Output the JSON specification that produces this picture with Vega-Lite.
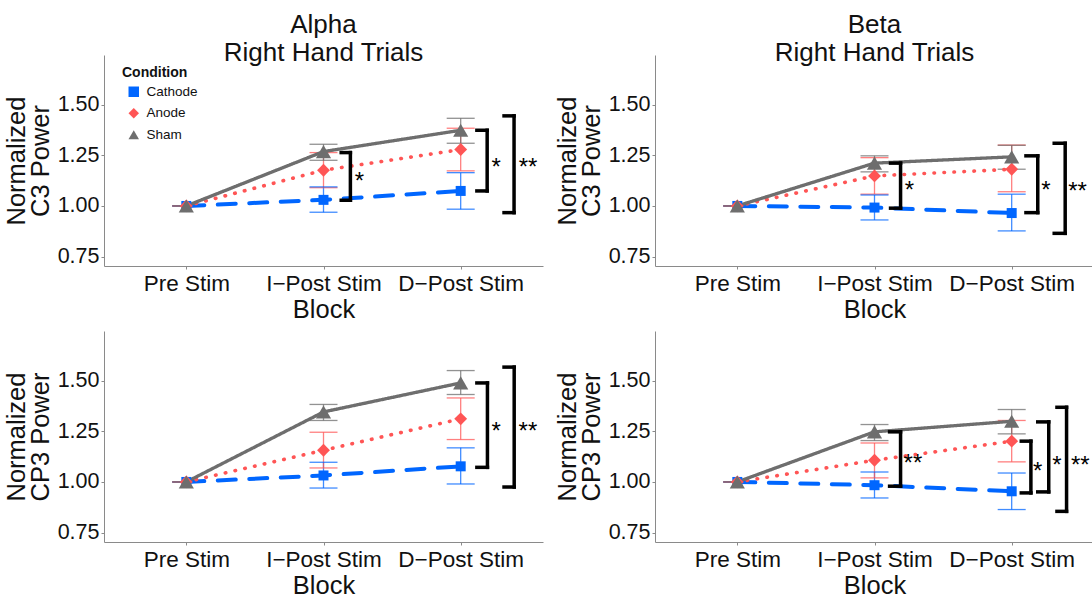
{
  "$schema": "https://vega.github.io/schema/vega-lite/v6.json",
  "padding": {"left": 4, "top": 12, "right": 0, "bottom": 0},
  "background": "white",
  "config": {
    "font": "Liberation Sans",
    "view": {"stroke": null},
    "axis": {"grid": false, "domainColor": "#8a8a8a", "tickColor": "#8a8a8a", "tickSize": 3, "labelColor": "#111", "titleColor": "#111", "titleFontWeight": "normal", "labelFontSize": 21.5, "titleFontSize": 25.5},
    "title": {"fontSize": 26, "fontWeight": "normal", "color": "#111"},
    "legend": {"padding": 0}
  },
  "datasets": {
    "pts": [
      {"panel": "AC3", "Condition": "Cathode", "blk": 1, "y": 1.0, "lo": 1.0, "hi": 1.0},
      {"panel": "AC3", "Condition": "Cathode", "blk": 2, "y": 1.03, "lo": 0.969, "hi": 1.094},
      {"panel": "AC3", "Condition": "Cathode", "blk": 3, "y": 1.074, "lo": 0.984, "hi": 1.164},
      {"panel": "AC3", "Condition": "Anode", "blk": 1, "y": 1.0, "lo": 1.0, "hi": 1.0},
      {"panel": "AC3", "Condition": "Anode", "blk": 2, "y": 1.176, "lo": 1.09, "hi": 1.263},
      {"panel": "AC3", "Condition": "Anode", "blk": 3, "y": 1.278, "lo": 1.173, "hi": 1.383},
      {"panel": "AC3", "Condition": "Sham", "blk": 1, "y": 1.0, "lo": 1.0, "hi": 1.0},
      {"panel": "AC3", "Condition": "Sham", "blk": 2, "y": 1.268, "lo": 1.225, "hi": 1.304},
      {"panel": "AC3", "Condition": "Sham", "blk": 3, "y": 1.373, "lo": 1.309, "hi": 1.432},
      {"panel": "BC3", "Condition": "Cathode", "blk": 1, "y": 1.0, "lo": 1.0, "hi": 1.0},
      {"panel": "BC3", "Condition": "Cathode", "blk": 2, "y": 0.992, "lo": 0.931, "hi": 1.054},
      {"panel": "BC3", "Condition": "Cathode", "blk": 3, "y": 0.965, "lo": 0.877, "hi": 1.058},
      {"panel": "BC3", "Condition": "Anode", "blk": 1, "y": 1.0, "lo": 1.0, "hi": 1.0},
      {"panel": "BC3", "Condition": "Anode", "blk": 2, "y": 1.148, "lo": 1.058, "hi": 1.238},
      {"panel": "BC3", "Condition": "Anode", "blk": 3, "y": 1.181, "lo": 1.07, "hi": 1.3},
      {"panel": "BC3", "Condition": "Sham", "blk": 1, "y": 1.0, "lo": 1.0, "hi": 1.0},
      {"panel": "BC3", "Condition": "Sham", "blk": 2, "y": 1.211, "lo": 1.168, "hi": 1.247},
      {"panel": "BC3", "Condition": "Sham", "blk": 3, "y": 1.242, "lo": 1.181, "hi": 1.299},
      {"panel": "ACP3", "Condition": "Cathode", "blk": 1, "y": 1.0, "lo": 1.0, "hi": 1.0},
      {"panel": "ACP3", "Condition": "Cathode", "blk": 2, "y": 1.032, "lo": 0.97, "hi": 1.097},
      {"panel": "ACP3", "Condition": "Cathode", "blk": 3, "y": 1.077, "lo": 0.99, "hi": 1.168},
      {"panel": "ACP3", "Condition": "Anode", "blk": 1, "y": 1.0, "lo": 1.0, "hi": 1.0},
      {"panel": "ACP3", "Condition": "Anode", "blk": 2, "y": 1.156, "lo": 1.069, "hi": 1.245},
      {"panel": "ACP3", "Condition": "Anode", "blk": 3, "y": 1.311, "lo": 1.209, "hi": 1.414},
      {"panel": "ACP3", "Condition": "Sham", "blk": 1, "y": 1.0, "lo": 1.0, "hi": 1.0},
      {"panel": "ACP3", "Condition": "Sham", "blk": 2, "y": 1.345, "lo": 1.303, "hi": 1.382},
      {"panel": "ACP3", "Condition": "Sham", "blk": 3, "y": 1.488, "lo": 1.431, "hi": 1.549},
      {"panel": "BCP3", "Condition": "Cathode", "blk": 1, "y": 1.0, "lo": 1.0, "hi": 1.0},
      {"panel": "BCP3", "Condition": "Cathode", "blk": 2, "y": 0.984, "lo": 0.921, "hi": 1.049},
      {"panel": "BCP3", "Condition": "Cathode", "blk": 3, "y": 0.954, "lo": 0.864, "hi": 1.044},
      {"panel": "BCP3", "Condition": "Anode", "blk": 1, "y": 1.0, "lo": 1.0, "hi": 1.0},
      {"panel": "BCP3", "Condition": "Anode", "blk": 2, "y": 1.107, "lo": 1.02, "hi": 1.192},
      {"panel": "BCP3", "Condition": "Anode", "blk": 3, "y": 1.201, "lo": 1.099, "hi": 1.303},
      {"panel": "BCP3", "Condition": "Sham", "blk": 1, "y": 1.0, "lo": 1.0, "hi": 1.0},
      {"panel": "BCP3", "Condition": "Sham", "blk": 2, "y": 1.247, "lo": 1.204, "hi": 1.283},
      {"panel": "BCP3", "Condition": "Sham", "blk": 3, "y": 1.299, "lo": 1.237, "hi": 1.357}
    ],
    "br": [
      {"panel": "AC3", "bx": 2.196, "tx": 2.129, "ylo": 1.028, "yhi": 1.263, "label": "*", "lx": 2.262, "ly": 1.146},
      {"panel": "AC3", "bx": 3.193, "tx": 3.118, "ylo": 1.074, "yhi": 1.373, "label": "*", "lx": 3.258, "ly": 1.218},
      {"panel": "AC3", "bx": 3.389, "tx": 3.316, "ylo": 0.967, "yhi": 1.444, "label": "**", "lx": 3.491, "ly": 1.218},
      {"panel": "BC3", "bx": 2.19, "tx": 2.117, "ylo": 0.989, "yhi": 1.211, "label": "*", "lx": 2.255, "ly": 1.102},
      {"panel": "BC3", "bx": 3.19, "tx": 3.104, "ylo": 0.967, "yhi": 1.247, "label": "*", "lx": 3.25, "ly": 1.104},
      {"panel": "BC3", "bx": 3.39, "tx": 3.31, "ylo": 0.865, "yhi": 1.309, "label": "**", "lx": 3.48, "ly": 1.099},
      {"panel": "ACP3", "bx": 3.195, "tx": 3.118, "ylo": 1.072, "yhi": 1.488, "label": "*", "lx": 3.258, "ly": 1.275},
      {"panel": "ACP3", "bx": 3.39, "tx": 3.316, "ylo": 0.975, "yhi": 1.566, "label": "**", "lx": 3.49, "ly": 1.275},
      {"panel": "BCP3", "bx": 2.19, "tx": 2.11, "ylo": 0.979, "yhi": 1.247, "label": "**", "lx": 2.28, "ly": 1.118},
      {"panel": "BCP3", "bx": 3.14, "tx": 3.07, "ylo": 0.946, "yhi": 1.201, "label": "*", "lx": 3.19, "ly": 1.077},
      {"panel": "BCP3", "bx": 3.27, "tx": 3.19, "ylo": 0.951, "yhi": 1.296, "label": "*", "lx": 3.33, "ly": 1.11},
      {"panel": "BCP3", "bx": 3.4, "tx": 3.33, "ylo": 0.855, "yhi": 1.368, "label": "**", "lx": 3.5, "ly": 1.11}
    ]
  },
  "columns": 2,
  "spacing": {"column": 12, "row": 8},
  "concat": [
    {
      "width": 439, "height": 211,
      "title": {"text": ["Alpha", "Right Hand Trials"], "anchor": "middle", "offset": -11, "lineHeight": 28},
      "layer": [
        {"data": {"name": "pts"}, "transform": [{"filter": "datum.panel=='AC3'"}], "mark": {"type": "rule", "strokeWidth": 1.3, "opacity": 0.75},
         "encoding": {
           "x": {"field": "blk", "type": "quantitative", "scale": {"domain": [0.4, 3.6], "nice": false, "zero": false}, "axis": {"title": "Block", "values": [1, 2, 3], "labelExpr": "datum.value==1?'Pre Stim':datum.value==2?'I−Post Stim':'D−Post Stim'", "labelPadding": 3, "titlePadding": 3, "labelFontSize": 22.5, "titleFontSize": 25.5}},
           "y": {"field": "lo", "type": "quantitative", "scale": {"domain": [0.704, 1.744], "nice": false, "zero": false}, "axis": {"title": ["Normalized", "C3 Power"], "values": [0.75, 1, 1.25, 1.5], "format": ".2f", "labelPadding": 2, "titlePadding": 4, "titleLineHeight": 24}},
           "y2": {"field": "hi"},
           "stroke": {"field": "Condition", "type": "nominal", "scale": {"domain": ["Sham", "Anode", "Cathode"], "range": ["#6E6E6E", "#FF5555", "#0066FF"]}, "legend": null}}},
        {"data": {"name": "pts"}, "transform": [{"filter": "datum.panel=='AC3'"}], "mark": {"type": "tick", "orient": "horizontal", "size": 28, "thickness": 1.3, "opacity": 0.75},
         "encoding": {"x": {"field": "blk", "type": "quantitative"}, "y": {"field": "lo", "type": "quantitative"}, "fill": {"field": "Condition", "type": "nominal", "scale": {"domain": ["Sham", "Anode", "Cathode"], "range": ["#6E6E6E", "#FF5555", "#0066FF"]}, "legend": null}}},
        {"data": {"name": "pts"}, "transform": [{"filter": "datum.panel=='AC3'"}], "mark": {"type": "tick", "orient": "horizontal", "size": 28, "thickness": 1.3, "opacity": 0.75},
         "encoding": {"x": {"field": "blk", "type": "quantitative"}, "y": {"field": "hi", "type": "quantitative"}, "fill": {"field": "Condition", "type": "nominal", "legend": null}}},
        {"data": {"name": "pts"}, "transform": [{"filter": "datum.panel=='AC3'"}], "mark": {"type": "line", "strokeCap": "round"},
         "encoding": {"x": {"field": "blk", "type": "quantitative"}, "y": {"field": "y", "type": "quantitative"}, "stroke": {"field": "Condition", "type": "nominal", "legend": null},
           "strokeDash": {"field": "Condition", "type": "nominal", "scale": {"domain": ["Sham", "Anode", "Cathode"], "range": [[1, 0], [0.5, 9.5], [18, 13.5]]}, "legend": null},
           "strokeWidth": {"field": "Condition", "type": "nominal", "scale": {"domain": ["Sham", "Anode", "Cathode"], "range": [3.3, 4, 4.5]}, "legend": null}}},
        {"data": {"name": "pts"}, "transform": [{"filter": "datum.panel=='AC3'"}], "mark": {"type": "point", "filled": true, "opacity": 1},
         "encoding": {"x": {"field": "blk", "type": "quantitative"}, "y": {"field": "y", "type": "quantitative"},
           "color": {"field": "Condition", "type": "nominal", "scale": {"domain": ["Cathode", "Anode", "Sham"], "range": ["#0066FF", "#FF5555", "#6E6E6E"]}, "legend": {"orient": "none", "legendX": 18, "legendY": 11, "title": "Condition", "titleFontSize": 14, "titleFontWeight": "bold", "titleColor": "#111", "labelColor": "#111", "labelFontSize": 13.5, "symbolSize": 110, "rowPadding": 6.5, "titlePadding": 5, "symbolOpacity": 1, "symbolOffset": 5, "labelOffset": 6}},
           "shape": {"field": "Condition", "type": "nominal", "scale": {"domain": ["Cathode", "Anode", "Sham"], "range": ["square", "diamond", "triangle-up"]}},
           "size": {"field": "Condition", "type": "nominal", "scale": {"domain": ["Sham", "Anode", "Cathode"], "range": [230, 100, 125]}, "legend": null}}},
        {"data": {"name": "br"}, "transform": [{"filter": "datum.panel=='AC3'"}], "mark": {"type": "rule", "strokeWidth": 3.5, "color": "black", "strokeCap": "square"},
         "encoding": {"x": {"field": "bx", "type": "quantitative"}, "y": {"field": "ylo", "type": "quantitative"}, "y2": {"field": "yhi"}}},
        {"data": {"name": "br"}, "transform": [{"filter": "datum.panel=='AC3'"}], "mark": {"type": "rule", "strokeWidth": 3.5, "color": "black", "strokeCap": "square"},
         "encoding": {"x": {"field": "tx", "type": "quantitative"}, "x2": {"field": "bx"}, "y": {"field": "ylo", "type": "quantitative"}}},
        {"data": {"name": "br"}, "transform": [{"filter": "datum.panel=='AC3'"}], "mark": {"type": "rule", "strokeWidth": 3.5, "color": "black", "strokeCap": "square"},
         "encoding": {"x": {"field": "tx", "type": "quantitative"}, "x2": {"field": "bx"}, "y": {"field": "yhi", "type": "quantitative"}}},
        {"data": {"name": "br"}, "transform": [{"filter": "datum.panel=='AC3'"}], "mark": {"type": "text", "fontSize": 24, "align": "center", "baseline": "middle", "dy": 6, "color": "black"},
         "encoding": {"x": {"field": "lx", "type": "quantitative"}, "y": {"field": "ly", "type": "quantitative"}, "text": {"field": "label"}}}
      ]
    },
    {
      "width": 439, "height": 211,
      "title": {"text": ["Beta", "Right Hand Trials"], "anchor": "middle", "offset": -11, "lineHeight": 28},
      "layer": [
        {"data": {"name": "pts"}, "transform": [{"filter": "datum.panel=='BC3'"}], "mark": {"type": "rule", "strokeWidth": 1.3, "opacity": 0.75},
         "encoding": {
           "x": {"field": "blk", "type": "quantitative", "scale": {"domain": [0.4, 3.6], "nice": false, "zero": false}, "axis": {"title": "Block", "values": [1, 2, 3], "labelExpr": "datum.value==1?'Pre Stim':datum.value==2?'I−Post Stim':'D−Post Stim'", "labelPadding": 3, "titlePadding": 3, "labelFontSize": 22.5, "titleFontSize": 25.5}},
           "y": {"field": "lo", "type": "quantitative", "scale": {"domain": [0.704, 1.744], "nice": false, "zero": false}, "axis": {"title": ["Normalized", "C3 Power"], "values": [0.75, 1, 1.25, 1.5], "format": ".2f", "labelPadding": 2, "titlePadding": 4, "titleLineHeight": 24}},
           "y2": {"field": "hi"},
           "stroke": {"field": "Condition", "type": "nominal", "legend": null}}},
        {"data": {"name": "pts"}, "transform": [{"filter": "datum.panel=='BC3'"}], "mark": {"type": "tick", "orient": "horizontal", "size": 28, "thickness": 1.3, "opacity": 0.75},
         "encoding": {"x": {"field": "blk", "type": "quantitative"}, "y": {"field": "lo", "type": "quantitative"}, "fill": {"field": "Condition", "type": "nominal", "legend": null}}},
        {"data": {"name": "pts"}, "transform": [{"filter": "datum.panel=='BC3'"}], "mark": {"type": "tick", "orient": "horizontal", "size": 28, "thickness": 1.3, "opacity": 0.75},
         "encoding": {"x": {"field": "blk", "type": "quantitative"}, "y": {"field": "hi", "type": "quantitative"}, "fill": {"field": "Condition", "type": "nominal", "legend": null}}},
        {"data": {"name": "pts"}, "transform": [{"filter": "datum.panel=='BC3'"}], "mark": {"type": "line", "strokeCap": "round"},
         "encoding": {"x": {"field": "blk", "type": "quantitative"}, "y": {"field": "y", "type": "quantitative"}, "stroke": {"field": "Condition", "type": "nominal", "legend": null},
           "strokeDash": {"field": "Condition", "type": "nominal", "legend": null},
           "strokeWidth": {"field": "Condition", "type": "nominal", "legend": null}}},
        {"data": {"name": "pts"}, "transform": [{"filter": "datum.panel=='BC3'"}], "mark": {"type": "point", "filled": true, "opacity": 1},
         "encoding": {"x": {"field": "blk", "type": "quantitative"}, "y": {"field": "y", "type": "quantitative"},
           "color": {"field": "Condition", "type": "nominal"},
           "shape": {"field": "Condition", "type": "nominal"},
           "size": {"field": "Condition", "type": "nominal", "legend": null}}},
        {"data": {"name": "br"}, "transform": [{"filter": "datum.panel=='BC3'"}], "mark": {"type": "rule", "strokeWidth": 3.5, "color": "black", "strokeCap": "square"},
         "encoding": {"x": {"field": "bx", "type": "quantitative"}, "y": {"field": "ylo", "type": "quantitative"}, "y2": {"field": "yhi"}}},
        {"data": {"name": "br"}, "transform": [{"filter": "datum.panel=='BC3'"}], "mark": {"type": "rule", "strokeWidth": 3.5, "color": "black", "strokeCap": "square"},
         "encoding": {"x": {"field": "tx", "type": "quantitative"}, "x2": {"field": "bx"}, "y": {"field": "ylo", "type": "quantitative"}}},
        {"data": {"name": "br"}, "transform": [{"filter": "datum.panel=='BC3'"}], "mark": {"type": "rule", "strokeWidth": 3.5, "color": "black", "strokeCap": "square"},
         "encoding": {"x": {"field": "tx", "type": "quantitative"}, "x2": {"field": "bx"}, "y": {"field": "yhi", "type": "quantitative"}}},
        {"data": {"name": "br"}, "transform": [{"filter": "datum.panel=='BC3'"}], "mark": {"type": "text", "fontSize": 24, "align": "center", "baseline": "middle", "dy": 6, "color": "black"},
         "encoding": {"x": {"field": "lx", "type": "quantitative"}, "y": {"field": "ly", "type": "quantitative"}, "text": {"field": "label"}}}
      ]
    },
    {
      "width": 439, "height": 211,
      "layer": [
        {"data": {"name": "pts"}, "transform": [{"filter": "datum.panel=='ACP3'"}], "mark": {"type": "rule", "strokeWidth": 1.3, "opacity": 0.75},
         "encoding": {
           "x": {"field": "blk", "type": "quantitative", "scale": {"domain": [0.4, 3.6], "nice": false, "zero": false}, "axis": {"title": "Block", "values": [1, 2, 3], "labelExpr": "datum.value==1?'Pre Stim':datum.value==2?'I−Post Stim':'D−Post Stim'", "labelPadding": 3, "titlePadding": 3, "labelFontSize": 22.5, "titleFontSize": 25.5}},
           "y": {"field": "lo", "type": "quantitative", "scale": {"domain": [0.704, 1.744], "nice": false, "zero": false}, "axis": {"title": ["Normalized", "CP3 Power"], "values": [0.75, 1, 1.25, 1.5], "format": ".2f", "labelPadding": 2, "titlePadding": 4, "titleLineHeight": 24}},
           "y2": {"field": "hi"},
           "stroke": {"field": "Condition", "type": "nominal", "legend": null}}},
        {"data": {"name": "pts"}, "transform": [{"filter": "datum.panel=='ACP3'"}], "mark": {"type": "tick", "orient": "horizontal", "size": 28, "thickness": 1.3, "opacity": 0.75},
         "encoding": {"x": {"field": "blk", "type": "quantitative"}, "y": {"field": "lo", "type": "quantitative"}, "fill": {"field": "Condition", "type": "nominal", "legend": null}}},
        {"data": {"name": "pts"}, "transform": [{"filter": "datum.panel=='ACP3'"}], "mark": {"type": "tick", "orient": "horizontal", "size": 28, "thickness": 1.3, "opacity": 0.75},
         "encoding": {"x": {"field": "blk", "type": "quantitative"}, "y": {"field": "hi", "type": "quantitative"}, "fill": {"field": "Condition", "type": "nominal", "legend": null}}},
        {"data": {"name": "pts"}, "transform": [{"filter": "datum.panel=='ACP3'"}], "mark": {"type": "line", "strokeCap": "round"},
         "encoding": {"x": {"field": "blk", "type": "quantitative"}, "y": {"field": "y", "type": "quantitative"}, "stroke": {"field": "Condition", "type": "nominal", "legend": null},
           "strokeDash": {"field": "Condition", "type": "nominal", "legend": null},
           "strokeWidth": {"field": "Condition", "type": "nominal", "legend": null}}},
        {"data": {"name": "pts"}, "transform": [{"filter": "datum.panel=='ACP3'"}], "mark": {"type": "point", "filled": true, "opacity": 1},
         "encoding": {"x": {"field": "blk", "type": "quantitative"}, "y": {"field": "y", "type": "quantitative"},
           "color": {"field": "Condition", "type": "nominal"},
           "shape": {"field": "Condition", "type": "nominal"},
           "size": {"field": "Condition", "type": "nominal", "legend": null}}},
        {"data": {"name": "br"}, "transform": [{"filter": "datum.panel=='ACP3'"}], "mark": {"type": "rule", "strokeWidth": 3.5, "color": "black", "strokeCap": "square"},
         "encoding": {"x": {"field": "bx", "type": "quantitative"}, "y": {"field": "ylo", "type": "quantitative"}, "y2": {"field": "yhi"}}},
        {"data": {"name": "br"}, "transform": [{"filter": "datum.panel=='ACP3'"}], "mark": {"type": "rule", "strokeWidth": 3.5, "color": "black", "strokeCap": "square"},
         "encoding": {"x": {"field": "tx", "type": "quantitative"}, "x2": {"field": "bx"}, "y": {"field": "ylo", "type": "quantitative"}}},
        {"data": {"name": "br"}, "transform": [{"filter": "datum.panel=='ACP3'"}], "mark": {"type": "rule", "strokeWidth": 3.5, "color": "black", "strokeCap": "square"},
         "encoding": {"x": {"field": "tx", "type": "quantitative"}, "x2": {"field": "bx"}, "y": {"field": "yhi", "type": "quantitative"}}},
        {"data": {"name": "br"}, "transform": [{"filter": "datum.panel=='ACP3'"}], "mark": {"type": "text", "fontSize": 24, "align": "center", "baseline": "middle", "dy": 6, "color": "black"},
         "encoding": {"x": {"field": "lx", "type": "quantitative"}, "y": {"field": "ly", "type": "quantitative"}, "text": {"field": "label"}}}
      ]
    },
    {
      "width": 439, "height": 211,
      "layer": [
        {"data": {"name": "pts"}, "transform": [{"filter": "datum.panel=='BCP3'"}], "mark": {"type": "rule", "strokeWidth": 1.3, "opacity": 0.75},
         "encoding": {
           "x": {"field": "blk", "type": "quantitative", "scale": {"domain": [0.4, 3.6], "nice": false, "zero": false}, "axis": {"title": "Block", "values": [1, 2, 3], "labelExpr": "datum.value==1?'Pre Stim':datum.value==2?'I−Post Stim':'D−Post Stim'", "labelPadding": 3, "titlePadding": 3, "labelFontSize": 22.5, "titleFontSize": 25.5}},
           "y": {"field": "lo", "type": "quantitative", "scale": {"domain": [0.704, 1.744], "nice": false, "zero": false}, "axis": {"title": ["Normalized", "CP3 Power"], "values": [0.75, 1, 1.25, 1.5], "format": ".2f", "labelPadding": 2, "titlePadding": 4, "titleLineHeight": 24}},
           "y2": {"field": "hi"},
           "stroke": {"field": "Condition", "type": "nominal", "legend": null}}},
        {"data": {"name": "pts"}, "transform": [{"filter": "datum.panel=='BCP3'"}], "mark": {"type": "tick", "orient": "horizontal", "size": 28, "thickness": 1.3, "opacity": 0.75},
         "encoding": {"x": {"field": "blk", "type": "quantitative"}, "y": {"field": "lo", "type": "quantitative"}, "fill": {"field": "Condition", "type": "nominal", "legend": null}}},
        {"data": {"name": "pts"}, "transform": [{"filter": "datum.panel=='BCP3'"}], "mark": {"type": "tick", "orient": "horizontal", "size": 28, "thickness": 1.3, "opacity": 0.75},
         "encoding": {"x": {"field": "blk", "type": "quantitative"}, "y": {"field": "hi", "type": "quantitative"}, "fill": {"field": "Condition", "type": "nominal", "legend": null}}},
        {"data": {"name": "pts"}, "transform": [{"filter": "datum.panel=='BCP3'"}], "mark": {"type": "line", "strokeCap": "round"},
         "encoding": {"x": {"field": "blk", "type": "quantitative"}, "y": {"field": "y", "type": "quantitative"}, "stroke": {"field": "Condition", "type": "nominal", "legend": null},
           "strokeDash": {"field": "Condition", "type": "nominal", "legend": null},
           "strokeWidth": {"field": "Condition", "type": "nominal", "legend": null}}},
        {"data": {"name": "pts"}, "transform": [{"filter": "datum.panel=='BCP3'"}], "mark": {"type": "point", "filled": true, "opacity": 1},
         "encoding": {"x": {"field": "blk", "type": "quantitative"}, "y": {"field": "y", "type": "quantitative"},
           "color": {"field": "Condition", "type": "nominal"},
           "shape": {"field": "Condition", "type": "nominal"},
           "size": {"field": "Condition", "type": "nominal", "legend": null}}},
        {"data": {"name": "br"}, "transform": [{"filter": "datum.panel=='BCP3'"}], "mark": {"type": "rule", "strokeWidth": 3.5, "color": "black", "strokeCap": "square"},
         "encoding": {"x": {"field": "bx", "type": "quantitative"}, "y": {"field": "ylo", "type": "quantitative"}, "y2": {"field": "yhi"}}},
        {"data": {"name": "br"}, "transform": [{"filter": "datum.panel=='BCP3'"}], "mark": {"type": "rule", "strokeWidth": 3.5, "color": "black", "strokeCap": "square"},
         "encoding": {"x": {"field": "tx", "type": "quantitative"}, "x2": {"field": "bx"}, "y": {"field": "ylo", "type": "quantitative"}}},
        {"data": {"name": "br"}, "transform": [{"filter": "datum.panel=='BCP3'"}], "mark": {"type": "rule", "strokeWidth": 3.5, "color": "black", "strokeCap": "square"},
         "encoding": {"x": {"field": "tx", "type": "quantitative"}, "x2": {"field": "bx"}, "y": {"field": "yhi", "type": "quantitative"}}},
        {"data": {"name": "br"}, "transform": [{"filter": "datum.panel=='BCP3'"}], "mark": {"type": "text", "fontSize": 24, "align": "center", "baseline": "middle", "dy": 6, "color": "black"},
         "encoding": {"x": {"field": "lx", "type": "quantitative"}, "y": {"field": "ly", "type": "quantitative"}, "text": {"field": "label"}}}
      ]
    }
  ]
}
